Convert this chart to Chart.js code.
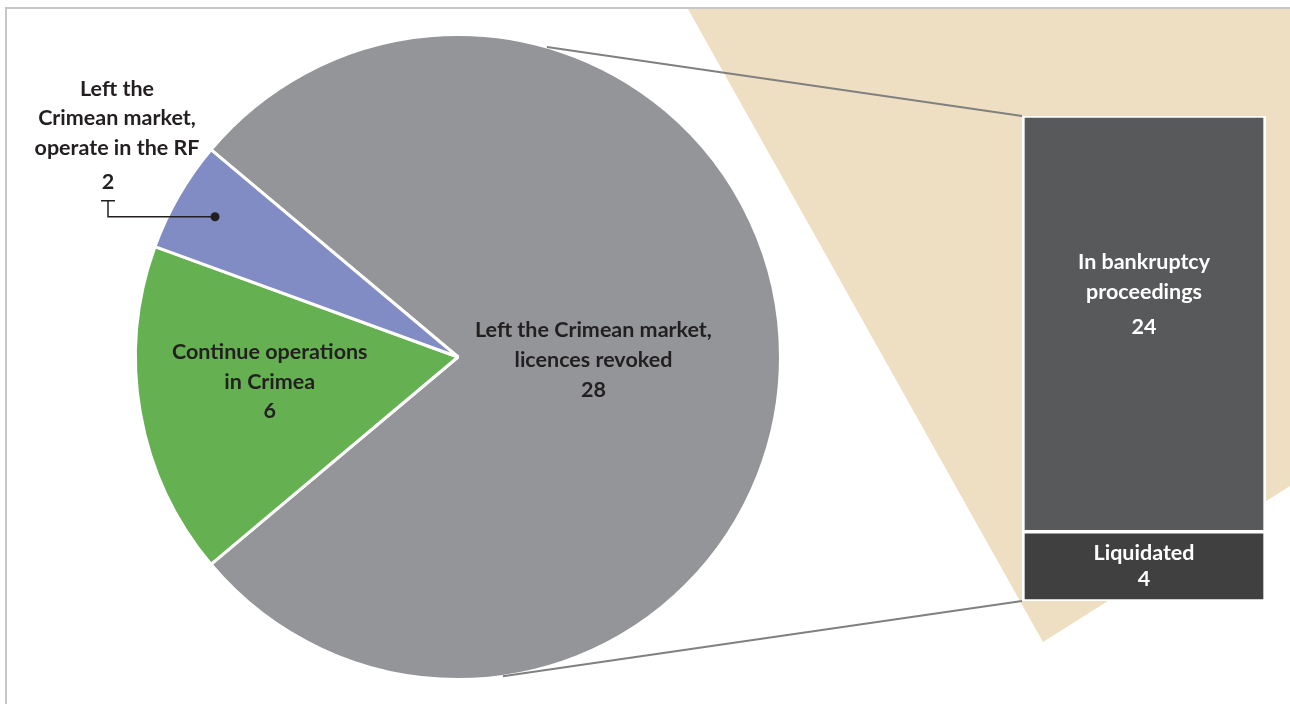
<!DOCTYPE html>
<html>
<head>
<meta charset="utf-8">
<script src="https://cdn.jsdelivr.net/npm/chart.js@4/dist/chart.umd.min.js"></script>
<style>
  html, body { margin: 0; padding: 0; background: #fff; }
  .wrap { position: relative; width: 1290px; height: 704px; overflow: hidden; }
  .wrap canvas { position: absolute; left: 0; top: 0; }
</style>
</head>
<body>
<div class="wrap">
  <canvas id="pie" width="1290" height="704"></canvas>
  <canvas id="bar" width="1290" height="704"></canvas>
</div>
<script>
// pie: banks that operated in Crimea
const pieLabels = [
  ['Left the Crimean market,', 'licences revoked'],
  ['Continue operations', 'in Crimea'],
  ['Left the', 'Crimean market,', 'operate in the RF']
];
const pieValues = [28, 6, 2];
const pieColors = ['#939598', '#65b152', '#828cc4'];

// bar: breakdown of the 28 revoked licences
const barLabels = [['Liquidated'], ['In bankruptcy', 'proceedings']];
const barValues = [4, 24];
const barColors = ['#404040', '#58595b'];

const FONT = 'bold 21.5px Lato, "Open Sans", sans-serif';
const TXT = '#231f20';

function lines(ctx, arr, x, y, lh) {
  arr.forEach((t, i) => ctx.fillText(t, x, y + i * lh));
}

const backdrop = {
  id: 'backdrop',
  beforeDraw(chart) {
    const ctx = chart.ctx;
    ctx.save();
    // beige wedge behind the bar
    ctx.fillStyle = '#eedec2';
    ctx.beginPath();
    ctx.moveTo(688, 9);
    ctx.lineTo(1290, 9);
    ctx.lineTo(1290, 486);
    ctx.lineTo(1043, 642);
    ctx.closePath();
    ctx.fill();
    // frame
    ctx.strokeStyle = '#c6c6c6';
    ctx.lineWidth = 2;
    ctx.beginPath();
    ctx.moveTo(6, 704);
    ctx.lineTo(6, 8);
    ctx.lineTo(1290, 8);
    ctx.stroke();
    ctx.restore();
  }
};

const pieText = {
  id: 'pieText',
  afterDraw(chart) {
    const ctx = chart.ctx;
    const arcs = chart.getDatasetMeta(0).data;
    ctx.save();
    ctx.font = FONT;
    ctx.fillStyle = TXT;
    ctx.textAlign = 'center';
    ctx.textBaseline = 'middle';

    const at = (arc, f) => {
      const a = (arc.startAngle + arc.endAngle) / 2;
      return [arc.x + Math.cos(a) * arc.outerRadius * f, arc.y + Math.sin(a) * arc.outerRadius * f];
    };

    // big grey slice
    let [x, y] = at(arcs[0], 0.42);
    lines(ctx, pieLabels[0].concat(String(pieValues[0])), x, y - 27, 30);

    // green slice
    [x, y] = at(arcs[1], 0.58);
    lines(ctx, pieLabels[1].concat(String(pieValues[1])), x - 4, y - 37, 29.5);

    // small blue slice with leader line
    [x, y] = at(arcs[2], 0.87);
    const lx = 108;
    ctx.strokeStyle = TXT;
    ctx.lineWidth = 1.5;
    ctx.beginPath();
    ctx.moveTo(x, y);
    ctx.lineTo(lx, y);
    ctx.lineTo(lx, y - 16);
    ctx.moveTo(lx - 7, y - 16);
    ctx.lineTo(lx + 7, y - 16);
    ctx.stroke();
    ctx.beginPath();
    ctx.arc(x, y, 4.5, 0, Math.PI * 2);
    ctx.fill();
    lines(ctx, pieLabels[2], lx + 9, y - 128, 29.5);
    ctx.fillText(String(pieValues[2]), lx, y - 35);
    ctx.restore();
  }
};

const pieChart = new Chart(document.getElementById('pie'), {
  type: 'pie',
  data: {
    labels: pieLabels.map(l => l.join(' ')),
    datasets: [{
      data: pieValues,
      backgroundColor: pieColors,
      borderColor: '#ffffff',
      borderWidth: 3
    }]
  },
  options: {
    responsive: false,
    animation: false,
    rotation: 310,
    layout: { padding: { left: 134, right: 508, top: 33, bottom: 23 } },
    plugins: { legend: { display: false }, tooltip: { enabled: false } }
  },
  plugins: [backdrop, pieText]
});

const connectors = {
  id: 'connectors',
  beforeDatasetsDraw(chart) {
    const ctx = chart.ctx;
    const arc = pieChart.getDatasetMeta(0).data[0];
    const bottom = chart.getDatasetMeta(0).data[0];
    const top = chart.getDatasetMeta(1).data[0];
    const left = top.x - top.width / 2;
    const p = a => [arc.x + Math.cos(a * Math.PI / 180) * arc.outerRadius,
                    arc.y + Math.sin(a * Math.PI / 180) * arc.outerRadius];
    ctx.save();
    ctx.strokeStyle = '#808080';
    ctx.lineWidth = 2;
    ctx.beginPath();
    let [x, y] = p(-74);
    ctx.moveTo(x, y);
    ctx.lineTo(left, top.y);
    [x, y] = p(82);
    ctx.moveTo(x, y);
    ctx.lineTo(left, bottom.base);
    ctx.stroke();
    ctx.restore();
  },
  afterDraw(chart) {
    const ctx = chart.ctx;
    ctx.save();
    ctx.font = FONT;
    ctx.fillStyle = '#ffffff';
    ctx.textAlign = 'center';
    ctx.textBaseline = 'middle';
    const liq = chart.getDatasetMeta(0).data[0];
    const bank = chart.getDatasetMeta(1).data[0];
    lines(ctx, barLabels[0].concat(String(barValues[0])), liq.x, (liq.y + liq.base) / 2 - 13, 26);
    lines(ctx, barLabels[1], bank.x, bank.y + 146, 30);
    ctx.fillText(String(barValues[1]), bank.x, bank.y + 211);
    ctx.restore();
  }
};

new Chart(document.getElementById('bar'), {
  type: 'bar',
  data: {
    labels: [''],
    datasets: barValues.map((v, i) => ({
      label: barLabels[i].join(' '),
      data: [v],
      backgroundColor: barColors[i],
      borderColor: '#ffffff',
      borderWidth: { top: 2, bottom: 2, left: 3, right: 3 },
      borderSkipped: false,
      barPercentage: 1,
      categoryPercentage: 1
    }))
  },
  options: {
    responsive: false,
    animation: false,
    layout: { padding: { left: 1022, right: 24, top: 116, bottom: 103 } },
    scales: {
      x: { stacked: true, display: false },
      y: { stacked: true, display: false, min: 0, max: 28 }
    },
    plugins: { legend: { display: false }, tooltip: { enabled: false } }
  },
  plugins: [connectors]
});
</script>
</body>
</html>
